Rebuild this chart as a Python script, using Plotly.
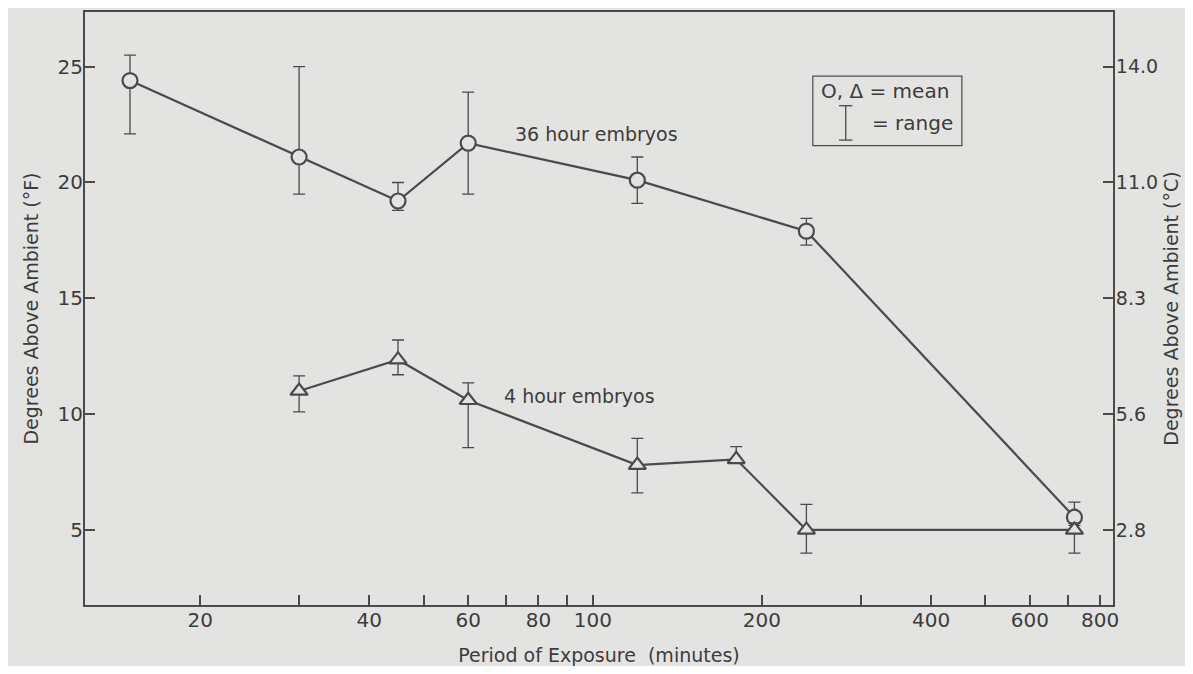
import numpy as np
import plotly.graph_objects as go

# ---- data ----
x36 = [15, 30, 45, 60, 120, 240, 720]
mean36 = [24.4, 21.1, 19.2, 21.7, 20.1, 17.9, 5.55]
low36 = [22.1, 19.5, 18.8, 19.5, 19.1, 17.3, 5.2]
high36 = [25.5, 25.0, 20.0, 23.9, 21.1, 18.45, 6.2]

x4 = [30, 45, 60, 120, 180, 240, 720]
mean4 = [11.0, 12.35, 10.6, 7.8, 8.05, 5.0, 5.0]
low4 = [10.1, 11.7, 8.55, 6.6, 7.9, 4.0, 4.0]
high4 = [11.65, 13.2, 11.35, 8.95, 8.6, 6.1, 5.3]

xtick_vals = [20, 30, 40, 50, 60, 70, 80, 90, 100, 200, 300, 400, 500, 600, 700, 800]
xtick_text = ["20", "", "40", "", "60", "", "80", "", "100", "200", "", "400", "", "600", "", "800"]
ytick_vals = [5, 10, 15, 20, 25]
ytick_text_c = ["2.8", "5.6", "8.3", "11.0", "14.0"]

BG = "#e3e3e1"
INK = "#4a4a4a"
TXT = "#3c3c3c"
FONT = "DejaVu Sans"

fig = go.Figure()

def add_series(xs, m, lo, hi, symbol, size):
    fig.add_trace(go.Scatter(
        x=xs, y=m, mode="lines+markers",
        line=dict(color=INK, width=2.2),
        marker=dict(symbol=symbol, size=size, color=BG, line=dict(color=INK, width=2.2)),
        error_y=dict(type="data", symmetric=False,
                     array=[h - v for h, v in zip(hi, m)],
                     arrayminus=[v - l for v, l in zip(m, lo)],
                     color=INK, thickness=1.3, width=6),
        showlegend=False,
    ))

add_series(x36, mean36, low36, high36, "circle", 15)
add_series(x4, mean4, low4, high4, "triangle-up", 15)

# invisible trace for right axis
fig.add_trace(go.Scatter(x=[x36[0]], y=[mean36[0]], yaxis="y2", mode="markers",
                         marker=dict(opacity=0), showlegend=False, hoverinfo="skip"))

yrange = [1.76, 27.36]
fig.update_layout(
    width=1177, height=658,
    paper_bgcolor=BG, plot_bgcolor=BG,
    margin=dict(l=77, r=72, t=4, b=61, autoexpand=False),
    font=dict(family=FONT, color=TXT, size=20),
    xaxis=dict(type="log", range=[1.096, 2.926], tickvals=xtick_vals, ticktext=xtick_text,
               ticks="inside", ticklen=10, tickwidth=1.5, tickcolor=INK,
               showline=True, linecolor=INK, linewidth=2, mirror=True, automargin=False,
               showgrid=False, zeroline=False, tickfont=dict(size=20), ticklabelstandoff=-4,
               title=dict(text="Period of Exposure  (minutes)", font=dict(size=19), standoff=34)),
    yaxis=dict(range=yrange, tickvals=ytick_vals, ticks="inside", ticklen=10, tickwidth=1.5,
               tickcolor=INK, showline=True, linecolor=INK, linewidth=2, automargin=False,
               showgrid=False, zeroline=False, tickfont=dict(size=20), ticklabelstandoff=-4,
               title=dict(text="Degrees Above Ambient (°F)", font=dict(size=19), standoff=14)),
    yaxis2=dict(range=yrange, overlaying="y", side="right", tickvals=ytick_vals,
                ticktext=ytick_text_c, ticks="inside", ticklen=10, tickwidth=1.5,
                tickcolor=INK, showline=True, linecolor=INK, linewidth=2, automargin=False,
                showgrid=False, zeroline=False, tickfont=dict(size=19), ticklabelstandoff=-3,
                title=dict(text="Degrees Above Ambient (°C)", font=dict(size=19), standoff=8)),
)

fig.add_annotation(x=np.log10(72), y=22.1, text="36 hour embryos", showarrow=False,
                   xanchor="left", yanchor="middle", font=dict(size=19))
fig.add_annotation(x=np.log10(69), y=10.8, text="4 hour embryos", showarrow=False,
                   xanchor="left", yanchor="middle", font=dict(size=19))

# legend box
fig.add_shape(type="rect", xref="paper", yref="paper", x0=0.708, x1=0.853, y0=0.7745, y1=0.892,
              line=dict(color=INK, width=1.2))
fig.add_annotation(xref="paper", yref="paper", x=0.714, y=0.867, text="O, Δ = mean",
                   showarrow=False, xanchor="left", yanchor="middle", font=dict(size=20))
fig.add_annotation(xref="paper", yref="paper", x=0.764, y=0.813, text="= range",
                   showarrow=False, xanchor="left", yanchor="middle", font=dict(size=20))
fig.add_shape(type="line", xref="paper", yref="paper", x0=0.740, x1=0.740, y0=0.784, y1=0.842,
              line=dict(color=INK, width=1.3))
fig.add_shape(type="line", xref="paper", yref="paper", x0=0.7335, x1=0.7465, y0=0.784, y1=0.784,
              line=dict(color=INK, width=1.3))
fig.add_shape(type="line", xref="paper", yref="paper", x0=0.7335, x1=0.7465, y0=0.842, y1=0.842,
              line=dict(color=INK, width=1.3))

fig.write_html("out.html")
